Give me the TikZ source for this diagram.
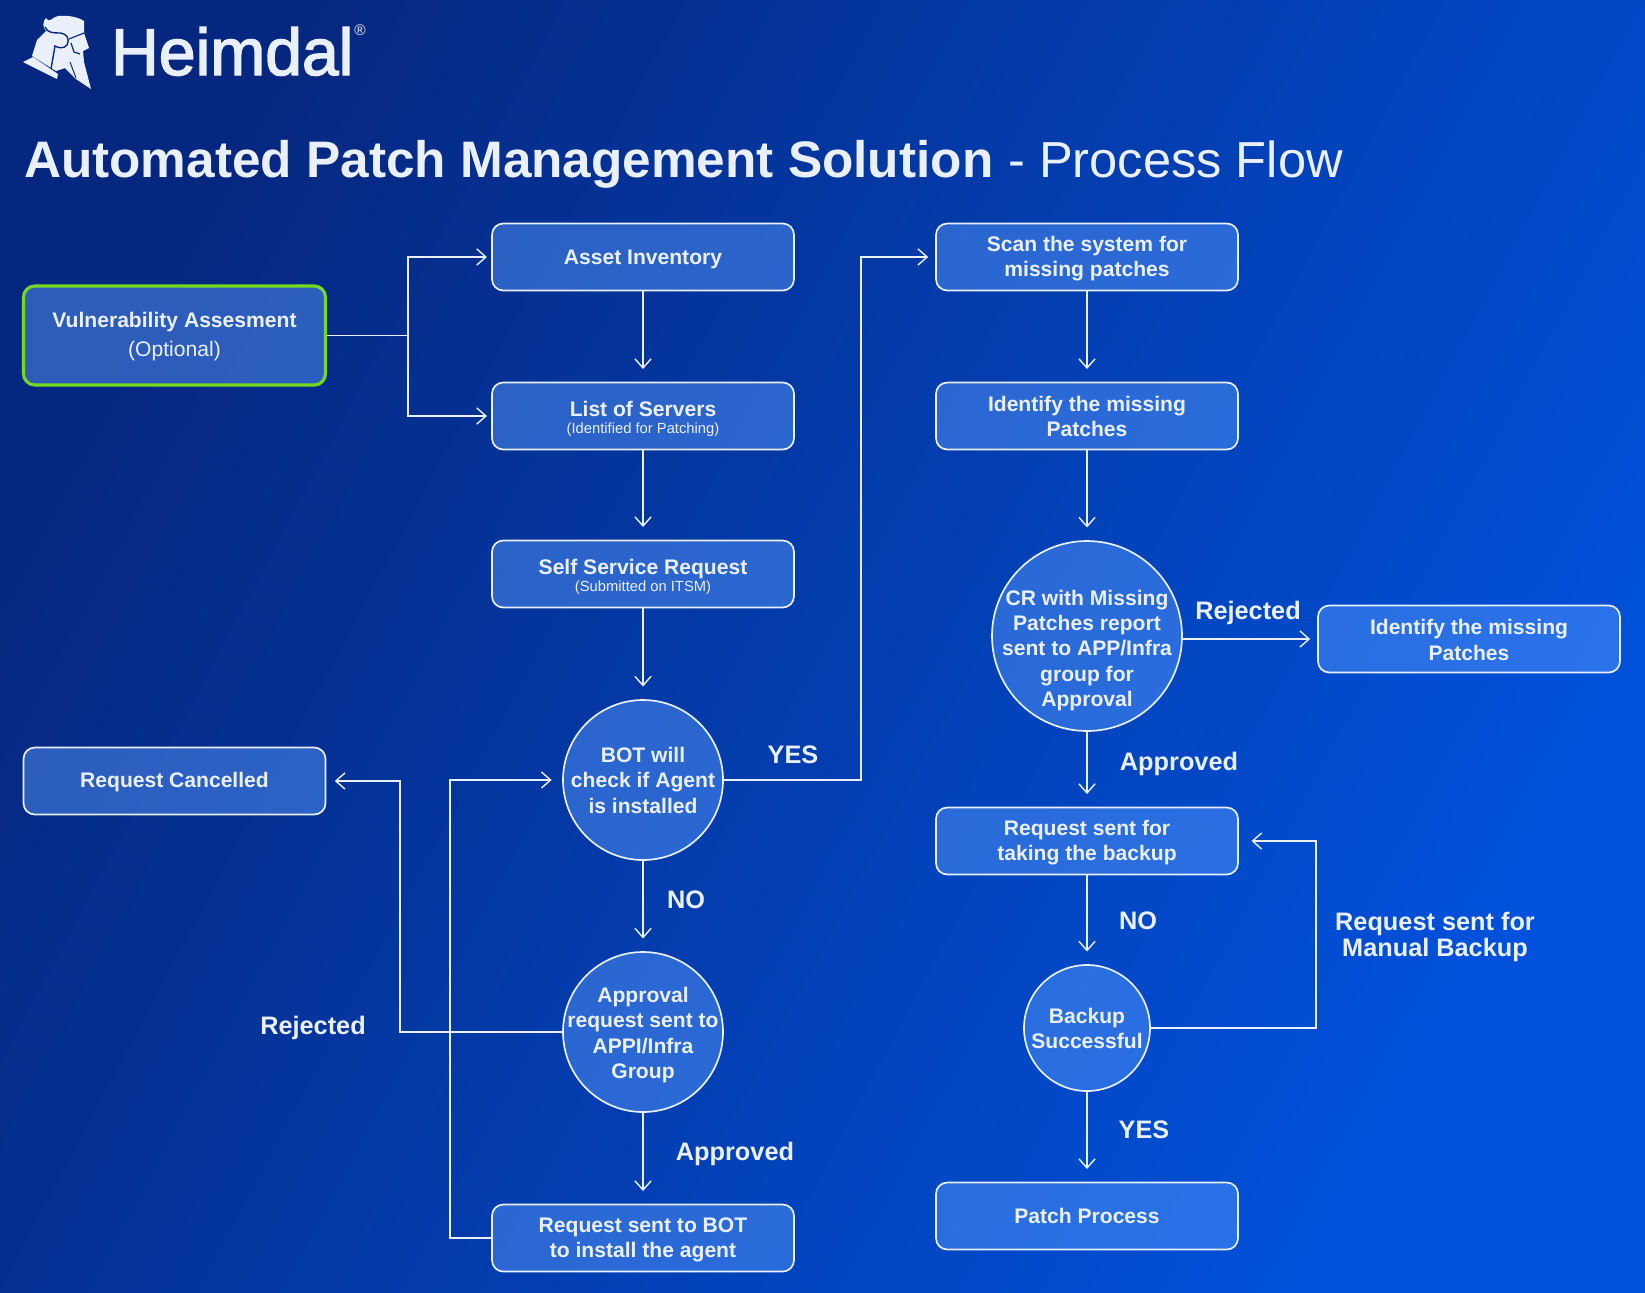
\documentclass[tikz,border=0pt]{standalone}
\usepackage{fontspec}
\setmainfont{Liberation Sans}
\newfontfamily\medf[FakeBold=2.2]{Liberation Sans}
\usetikzlibrary{arrows.meta,shapes.geometric}
\definecolor{txt}{HTML}{EAF0FB}
\definecolor{bgA}{HTML}{06277F}
\definecolor{bgM}{HTML}{0439A8}
\definecolor{bgB}{HTML}{0052DC}
\definecolor{cardfill}{HTML}{5B9BFF}
\definecolor{grn}{HTML}{77D91E}
\newcommand{\fs}[2]{\fontsize{#1}{#2}\selectfont}
\tikzset{
 x=0.05cm,y=-0.05cm,
 card/.style={draw=txt,line width=2.4pt,rounded corners=16pt,fill=cardfill,fill opacity=.46,text opacity=1,draw opacity=1,inner sep=0pt,text=txt,minimum width=15.1cm,minimum height=3.35cm,font=\fs{30}{36}\bfseries},
 disc/.style={circle,draw=txt,line width=2.4pt,fill=cardfill,fill opacity=.46,text opacity=1,draw opacity=1,inner sep=-60pt,text=txt,font=\fs{30}{36}\bfseries},
 lab/.style={text=txt,font=\fs{36}{36}\bfseries,inner sep=0pt,align=center},
 link/.style={draw=txt,line width=2pt},
 flow/.style={link,-{Straight Barb[length=13pt,width=23pt,line width=2pt]}}
}
\newcommand{\subt}[1]{{\fs{21}{24}\mdseries #1}}
% body text set lower than the box centre by #1, without changing the box
\newcommand{\nudge}[2][3pt]{\raisebox{-#1}[\height][\depth]{\begin{tabular}{@{}c@{}}#2\end{tabular}}}
\begin{document}
\begin{tikzpicture}
\useasboundingbox (0,0) rectangle (1645,1292);
\shade[left color=bgA,middle color=bgM,right color=bgB,shading angle=62] (0,0) rectangle (1645,1292);
% logo
\fill[txt] (46,18) .. controls (50,24) and (52,17) .. (58,16) .. controls (68,15) and (78,17) .. (84,21) -- (84,33) -- (89,48) -- (83,51) -- (84,62) -- (91,89) -- (76,79) -- (65,68) -- (56,71) -- (32,56) -- (37,40) -- (46,31) .. controls (42,27) and (43,21) .. (46,18) -- cycle;
\fill[txt] (23,62) -- (33,57) -- (58,74) -- (57,79) -- cycle;
\draw[bgA,line width=2pt] (45,27) .. controls (47,33) and (54,33) .. (60,33) .. controls (67,34) and (70,38) .. (67,45) .. controls (64,49) and (58,48) .. (55,46) -- (51,69);
\draw[bgA,line width=1.6pt] (69,39) -- (84,33);
\draw[bgA,line width=1.6pt] (71,43) -- (74,52) -- (80,54);
\draw[bgA,line width=1.4pt] (70,62) -- (76,78);
\node[text=txt,font=\medf\fs{94}{94},inner sep=0pt,anchor=base west] (brand) at (111,75) {Heimdal};
\node[text=txt,font=\fs{22}{22},inner sep=0pt] (reg) at (360,30) {®};
% title
\node[text=txt,font=\fs{73}{73}\bfseries,inner sep=0pt,anchor=base west] (title) at (24,177) {Automated Patch Management Solution};
\node[text=txt,font=\fs{72}{72},inner sep=0pt,anchor=base west] (title2) at (1008,177) {- Process Flow};
% nodes
\node[card,draw=grn,line width=4.4pt,minimum height=4.95cm] (vuln) at (174.5,335.5) {\nudge[2pt]{Vulnerability Assesment\\[4pt]{\mdseries(Optional)}}};
\node[card] (asset) at (643,257) {\nudge{Asset Inventory}};
\node[card] (list) at (643,416) {\nudge[5pt]{List of Servers\\[-12pt]\subt{(Identified for Patching)}}};
\node[card] (self) at (643,574) {\nudge[6pt]{Self Service Request\\[-12pt]\subt{(Submitted on ITSM)}}};
\node[disc,minimum size=8cm] (bot) at (643,780) {\nudge[4pt]{BOT will\\check if Agent\\is installed}};
\node[disc,minimum size=8cm] (appr) at (643,1032) {\nudge[5pt]{Approval\\request sent to\\APPI/Infra\\Group}};
\node[card] (inst) at (643,1238) {\nudge{Request sent to BOT\\to install the agent}};
\node[card] (canc) at (174.5,781) {\nudge[1.5pt]{Request Cancelled}};
\node[card] (scan) at (1087,257) {\nudge{Scan the system for\\missing patches}};
\node[card] (miss) at (1087,416) {\nudge[4pt]{Identify the missing\\Patches}};
\node[disc,minimum size=9.5cm] (cr) at (1087,636) {\nudge[21pt]{CR with Missing\\Patches report\\sent to APP/Infra\\group for\\Approval}};
\node[card] (miss2) at (1469,639) {\nudge[5pt]{Identify the missing\\Patches}};
\node[card] (bk) at (1087,841) {\nudge{Request sent for\\taking the backup}};
\node[disc,minimum size=6.3cm] (ok) at (1087,1028) {\nudge[4pt]{Backup\\Successful}};
\node[card] (patch) at (1087,1216) {\nudge[3pt]{Patch Process}};
% labels
\node[lab] (yes1) at (793,755) {YES};
\node[lab] (no1) at (686,900) {NO};
\node[lab] (rej1) at (313,1028) {Rejected};
\node[lab] (app1) at (735,1154) {Approved};
\node[lab] (rej2) at (1248,613) {Rejected};
\node[lab] (app2) at (1179,764) {Approved};
\node[lab] (no2) at (1138,921) {NO};
\node[lab] (yes2) at (1144,1130) {YES};
\node[lab] (man) at (1435,937) {Request sent for\\Manual Backup};
% connectors
\coordinate (j) at (408,335.5);
\draw[link] (vuln.east) -- (j);
\draw[flow] (j) |- ([xshift=-6pt]asset.west);
\draw[flow] (j) |- ([xshift=-6pt]list.west);
\draw[flow] (asset) -- ([yshift=18pt]list.north);
\draw[flow] (list) -- ([yshift=18pt]self.north);
\draw[flow] (self) -- ([yshift=18pt]bot.north);
\draw[flow] (bot) -- ([yshift=18pt]appr.north);
\draw[flow] (appr) -- ([yshift=18pt]inst.north);
\draw[flow] (bot.east) -- (861,780) |- ([xshift=-10pt]scan.west);
\draw[flow] (appr.west) -| (400,781) -- ([xshift=12pt]canc.east);
\draw[flow] (inst.west) -| (450,780) -- ([xshift=-15pt]bot.west);
\draw[flow] (scan) -- ([yshift=18pt]miss.north);
\draw[flow] (miss) -- ([yshift=18pt]cr.north);
\draw[flow] (cr.east |- miss2.west) -- ([xshift=-10pt]miss2.west);
\draw[flow] (cr) -- ([yshift=18pt]bk.north);
\draw[flow] (bk) -- ([yshift=18pt]ok.north);
\draw[flow] (ok) -- ([yshift=18pt]patch.north);
\draw[flow] (ok.east) -- (1316,1028) |- ([xshift=18pt]bk.east);
\end{tikzpicture}
\end{document}
